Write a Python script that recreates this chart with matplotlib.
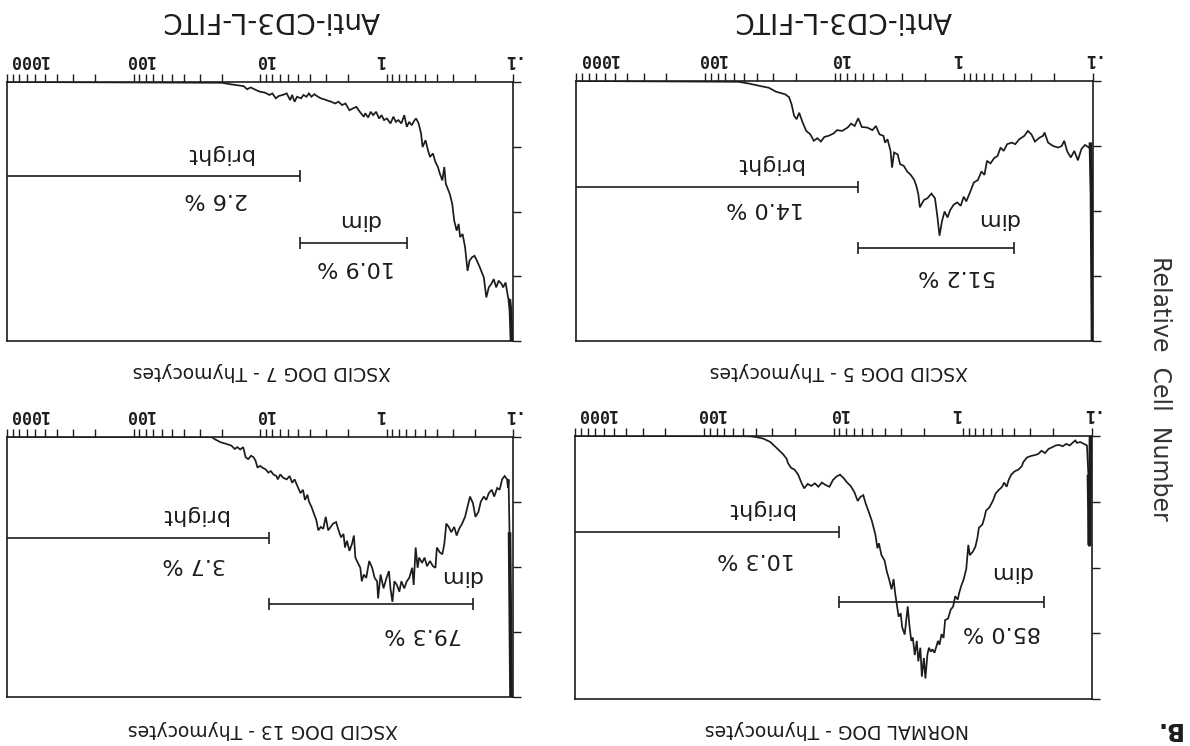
import numpy as np
import matplotlib
matplotlib.use("Agg")
import matplotlib.pyplot as plt
from matplotlib.ticker import LogLocator, NullFormatter

# ---------------- data (log channel 0..1024 = 0.1..1000, relative count 0..100) ----------------
dog7_ch = [1024, 589, 574, 560, 545, 538, 531, 520, 513, 502,
           493, 487, 480, 474, 466, 458, 451, 447, 442, 437,
           429, 424, 418, 413, 408, 402, 397, 389, 382, 375,
           368, 360, 353, 346, 339, 331, 324, 317, 310, 302,
           299, 293, 288, 283, 277, 271, 266, 261, 255, 248,
           242, 237, 232, 226, 220, 215, 210, 205, 199, 196,
           191, 186, 183, 177, 172, 168, 162, 157, 152, 148,
           143, 139, 136, 128, 123, 119, 114, 110, 107, 102,
           97, 92, 88, 83, 78, 73, 67, 59, 54, 49,
           44, 39, 34, 29, 23, 20, 15, 10, 7, 5,
           3, 0]
dog7_n = [0, 0.3, 0.8, 1.2, 1.6, 2.8, 2.1, 3.1, 3.7, 4.1,
          5.0, 4.4, 6.3, 5.4, 5.0, 4.4, 7.0, 5.0, 7.6, 5.7,
          6.3, 5.0, 5.7, 4.4, 5.7, 4.7, 5.4, 6.3, 6.7, 7.2,
          7.6, 8.3, 7.6, 8.9, 8.3, 10.9, 10.2, 9.6, 11.5, 13.4,
          12.1, 13.7, 11.5, 12.8, 11.5, 14.1, 12.8, 14.7, 14.1, 16.0,
          13.4, 15.4, 14.7, 16.0, 12.8, 17.3, 15.4, 16.7, 14.7, 14.1,
          16.0, 19.9, 25.1, 22.5, 26.4, 28.9, 27.6, 30.9, 32.8, 35.4,
          38.0, 32.8, 39.3, 43.2, 47.0, 53.5, 57.4, 54.8, 59.9, 58.7,
          63.8, 72.9, 69.0, 67.7, 67.1, 69.0, 71.6, 75.5, 83.2, 79.3,
          78.0, 76.1, 79.3, 76.7, 78.0, 79.3, 77.4, 83.2, 84.5, 88.4,
          100, 100]

dog5_ch = [1024, 702, 681, 660, 642, 628, 610, 602, 597, 592,
           587, 582, 575, 568, 560, 553, 546, 539, 532, 524,
           514, 507, 497, 486, 479, 472, 465, 458, 447, 437,
           430, 423, 415, 412, 407, 401, 398, 394, 387, 382,
           375, 368, 361, 354, 350, 346, 343, 335, 328, 320,
           313, 308, 304, 299, 294, 288, 283, 276, 269, 262,
           256, 251, 243, 236, 228, 221, 215, 210, 203, 196,
           189, 183, 177, 170, 161, 154, 146, 136, 129, 122,
           115, 106, 99, 96, 89, 79, 69, 62, 57, 51,
           44, 37, 30, 23, 16, 8, 5, 3, 1, 0]
dog5_n = [0, 0.3, 1.0, 1.9, 2.6, 4.1, 5.1, 6.2, 9.0, 13.4,
          14.7, 12.2, 16.0, 19.2, 20.5, 23.0, 22.0, 23.3, 21.5, 21.1,
          20.2, 18.9, 19.2, 17.9, 16.4, 17.3, 14.3, 17.7, 17.9, 18.9,
          17.3, 20.5, 21.1, 23.7, 22.4, 26.9, 33.3, 27.5, 28.2, 32.0,
          32.6, 34.8, 36.1, 38.1, 40.3, 43.5, 48.6, 45.8, 45.1, 43.3,
          45.1, 52.5, 59.5, 53.8, 50.2, 52.5, 49.7, 47.6, 46.7, 48.0,
          44.5, 46.3, 42.5, 39.0, 38.1, 34.8, 36.1, 30.7, 31.7, 29.7,
          28.8, 25.6, 26.9, 24.3, 23.7, 24.3, 22.4, 21.1, 19.2, 20.5,
          23.3, 21.8, 21.1, 19.8, 23.7, 25.0, 25.6, 25.0, 23.0, 27.1,
          29.4, 26.9, 30.5, 26.2, 24.6, 25.6, 24.3, 43.5, 100, 100]

dog13_ch = [1024, 610, 603, 592, 581, 570, 563, 558, 552, 546,
            541, 536, 530, 525, 521, 517, 512, 507, 501, 495,
            490, 485, 479, 476, 471, 465, 458, 452, 447, 442,
            436, 430, 425, 421, 416, 413, 408, 403, 398, 394,
            389, 384, 379, 374, 369, 364, 358, 353, 348, 343,
            340, 336, 331, 326, 322, 319, 314, 309, 306, 302,
            297, 291, 285, 280, 275, 273, 268, 262, 256, 251,
            248, 244, 240, 235, 230, 226, 220, 215, 210, 204,
            201, 197, 193, 190, 184, 179, 174, 168, 162, 157,
            154, 148, 143, 139, 135, 130, 125, 119, 114, 109,
            103, 97, 92, 87, 81, 76, 70, 65, 59, 54,
            49, 43, 38, 32, 27, 22, 17, 12, 10, 9,
            7, 5, 4, 0]
dog13_n = [0, 0, 0.9, 2.0, 2.6, 3.3, 4.6, 3.9, 4.8, 3.9,
           7.8, 8.5, 7.2, 7.8, 9.1, 11.8, 11.1, 11.8, 12.4, 13.7,
           13.1, 14.4, 15.0, 16.3, 14.4, 15.7, 16.3, 15.0, 17.6, 16.3,
           19.0, 21.6, 20.3, 24.2, 22.2, 24.8, 26.8, 29.4, 32.0, 35.9,
           34.6, 35.3, 30.7, 35.9, 34.6, 33.3, 32.7, 35.9, 38.6, 37.3,
           42.5, 39.9, 43.8, 41.2, 37.9, 46.4, 48.4, 50.3, 55.5, 52.9,
           54.2, 47.7, 50.3, 54.2, 55.5, 62.1, 52.9, 58.2, 54.2, 51.6,
           58.2, 63.4, 55.5, 56.9, 59.5, 55.5, 58.2, 55.5, 54.2, 50.3,
           56.9, 42.5, 50.3, 46.4, 48.4, 46.4, 49.7, 47.7, 49.7, 50.3,
           42.5, 44.4, 45.1, 41.2, 33.3, 34.6, 36.6, 34.6, 37.9, 35.3,
           33.3, 30.7, 26.8, 22.9, 25.5, 30.7, 28.8, 24.8, 22.9, 24.2,
           21.6, 20.3, 22.9, 19.6, 20.3, 16.3, 15.0, 16.3, 19.6, 16.3,
           37.3, 79.1, 100, 100]

normal_ch = [1024, 679, 665, 651, 637, 626, 619, 612, 605, 602,
             596, 589, 582, 575, 570, 563, 556, 549, 542, 535,
             528, 520, 513, 506, 499, 492, 485, 478, 471, 464,
             459, 453, 448, 443, 436, 429, 425, 422, 417, 411,
             406, 402, 397, 393, 390, 386, 383, 379, 376, 371,
             365, 362, 358, 355, 351, 347, 344, 340, 337, 333,
             330, 326, 323, 319, 316, 312, 309, 305, 302, 298,
             294, 291, 285, 280, 275, 271, 266, 263, 259, 254,
             249, 245, 242, 236, 231, 227, 224, 217, 213, 210,
             203, 196, 191, 185, 178, 174, 169, 165, 160, 153,
             146, 139, 136, 129, 121, 114, 107, 100, 93, 86,
             79, 72, 65, 58, 51, 44, 37, 33, 30, 23,
             16, 10, 7, 5, 3]
normal_n = [0, 0.1, 0.4, 1.0, 2.3, 4.3, 5.6, 6.9, 8.6, 10.4,
            12.1, 12.8, 14.7, 18.0, 19.9, 18.2, 19.0, 18.0, 19.3, 17.7,
            18.6, 19.3, 16.7, 15.4, 14.7, 16.0, 17.7, 19.0, 21.2, 24.7,
            23.2, 22.5, 25.8, 28.4, 32.3, 37.5, 42.7, 40.8, 45.3, 47.3,
            51.8, 54.4, 58.3, 54.4, 59.6, 64.8, 68.7, 67.4, 72.7, 75.5,
            64.8, 71.3, 77.9, 76.6, 83.3, 77.9, 85.7, 80.5, 91.5, 84.4,
            92.2, 83.1, 80.5, 82.0, 81.1, 82.4, 80.5, 77.9, 79.4, 75.3,
            76.8, 70.0, 69.4, 66.1, 64.8, 60.9, 62.2, 59.6, 57.0, 54.4,
            50.5, 41.4, 45.3, 44.0, 42.1, 38.8, 34.9, 33.6, 31.0, 28.4,
            27.1, 24.5, 21.9, 20.6, 19.3, 17.7, 19.3, 16.7, 14.7, 13.4,
            12.8, 11.5, 9.9, 8.2, 7.6, 7.3, 6.9, 5.6, 6.5, 4.9,
            4.3, 3.6, 3.4, 3.9, 3.0, 3.6, 2.3, 1.7, 2.6, 2.3,
            3.0, 3.6, 15.4, 41.4, 0]

# gates: (dim low, dim/bright split, bright high) in channels
dog7_gates = (214, 431, 1024)
dog5_gates = (157, 465, 1024)
dog13_gates = (81, 494, 1024)
normal_gates = (96, 501, 1024)

# percentages (dim, bright)
dog7_pct = ("10.9 %", "2.6 %")
dog5_pct = ("51.2 %", "14.0 %")
dog13_pct = ("79.3 %", "3.7 %")
normal_pct = ("85.0 %", "10.3 %")

titles = ["XSCID DOG 7 - Thymocytes", "XSCID DOG 5 - Thymocytes",
          "XSCID DOG 13 - Thymocytes", "NORMAL DOG - Thymocytes"]
decade_vals = [1000, 100, 10, 1, 0.1]
decade_labels = ["1000", "100", "10", "1", ".1"]

# ---------------- figure ----------------
W, H = 1190, 746
plt.rcParams["font.family"] = ["DejaVu Sans"]
fig = plt.figure(figsize=(W / 100, H / 100), dpi=100)
INK = "#1c1c1c"


def rect(x0, y0, x1, y1):
    return [x0 / W, 1 - y1 / H, (x1 - x0) / W, (y1 - y0) / H]


def ch2fl(ch):
    return 0.1 * 10 ** (np.asarray(ch, dtype=float) / 256.0)


panels = [
    dict(box=(7, 82, 513, 341), ch=dog7_ch, n=dog7_n, gates=dog7_gates, pct=dog7_pct,
         title=titles[0], tpos=(262, 371), levels=(62.3, 36.3),
         txt=dict(bright=(596, 27.9), pb=(600, 45.1), dim=(313, 53.2), pd=(317, 71.6))),
    dict(box=(576, 81, 1093, 341), ch=dog5_ch, n=dog5_n, gates=dog5_gates, pct=dog5_pct,
         title=titles[1], tpos=(839, 371), levels=(64.4, 40.7),
         txt=dict(bright=(642, 32.0), pb=(649, 49.0), dim=(189, 53.0), pd=(270, 75.0))),
    dict(box=(7, 437, 513, 697), ch=dog13_ch, n=dog13_n, gates=dog13_gates, pct=dog13_pct,
         title=titles[2], tpos=(263, 730), levels=(64.3, 38.8),
         txt=dict(bright=(646, 30.1), pb=(646, 49.0), dim=(106, 53.6), pd=(182, 75.8))),
    dict(box=(575, 436, 1092, 699), ch=normal_ch, n=normal_n, gates=normal_gates, pct=normal_pct,
         title=titles[3], tpos=(837, 730), levels=(63.1, 36.6),
         txt=dict(bright=(658, 27.7), pb=(665, 46.6), dim=(160, 51.8), pd=(178, 74.6))),
]

label_dx = [22, 6, 5, -7, -4]  # px offsets of decade labels

for p in panels:
    ax = fig.add_axes(rect(*p["box"]))
    ch = np.asarray(p["ch"], dtype=float)
    n = np.asarray(p["n"], dtype=float)
    ax.plot(ch2fl(ch), n, color=INK, lw=1.25, solid_joinstyle="miter")
    low = ch <= 7
    ax.plot(ch2fl(ch[low]), n[low], color=INK, lw=2.6)
    ax.set_xscale("log")
    ax.set_xlim(1000, 0.1)
    ax.set_ylim(100, 0)
    for s in ax.spines.values():
        s.set_linewidth(1.2)
        s.set_color(INK)
    ax.xaxis.set_ticks_position("top")
    ax.set_xticks(decade_vals)
    ax.xaxis.set_minor_locator(LogLocator(base=10, subs=np.arange(2, 10)))
    ax.xaxis.set_minor_formatter(NullFormatter())
    ax.tick_params(axis="x", which="both", direction="out", length=6, width=1.0,
                   color=INK, labeltop=False, labelbottom=False)
    ax.yaxis.set_ticks_position("right")
    ax.set_yticks([0, 25, 50, 75, 100])
    ax.tick_params(axis="y", direction="out", length=6, width=1.0, color=INK,
                   labelright=False, labelleft=False)

    for v, lbl, dx in zip(decade_vals, decade_labels, label_dx):
        ax.annotate(lbl, xy=(v, 1), xycoords=("data", "axes fraction"),
                    xytext=(dx * 0.72, 15.5), textcoords="offset points",
                    rotation=180, ha="center", va="center", fontsize=12,
                    fontweight="bold", family="DejaVu Sans Mono", color=INK,
                    annotation_clip=False)

    lo, split, hi = p["gates"]
    lvl_d, lvl_b = p["levels"]
    cap = 2.3
    ax.hlines(lvl_d, ch2fl(lo), ch2fl(split), color=INK, lw=1.2)
    ax.vlines([ch2fl(lo), ch2fl(split)], lvl_d - cap, lvl_d + cap, color=INK, lw=1.2)
    ax.hlines(lvl_b, ch2fl(split), ch2fl(hi), color=INK, lw=1.2)
    ax.vlines([ch2fl(split)], lvl_b - cap, lvl_b + cap, color=INK, lw=1.2)

    t = p["txt"]
    kw = dict(rotation=180, ha="center", va="center", fontsize=16, color=INK)
    ax.text(ch2fl(t["bright"][0]), t["bright"][1], "bright", **kw)
    ax.text(ch2fl(t["pb"][0]), t["pb"][1], p["pct"][1], **kw)
    ax.text(ch2fl(t["dim"][0]), t["dim"][1], "dim", **kw)
    ax.text(ch2fl(t["pd"][0]), t["pd"][1], p["pct"][0], **kw)

    fig.text(p["tpos"][0] / W, 1 - p["tpos"][1] / H, p["title"], rotation=180,
             ha="center", va="center", fontsize=13.5, color=INK)

for x in (271, 843):
    fig.text(x / W, 1 - 20 / H, "Anti-CD3-L-FITC", rotation=180, ha="center",
             va="center", fontsize=20, color=INK)

fig.text(1160 / W, 1 - 388 / H, "Relative  Cell  Number", rotation=-90,
         ha="center", va="center", fontsize=17, color="#333333")
fig.text(1167 / W, 1 - 729 / H, "B.", rotation=180, ha="center", va="center",
         fontsize=17, fontweight="bold", color=INK)

fig.savefig("out.png", dpi=100)
